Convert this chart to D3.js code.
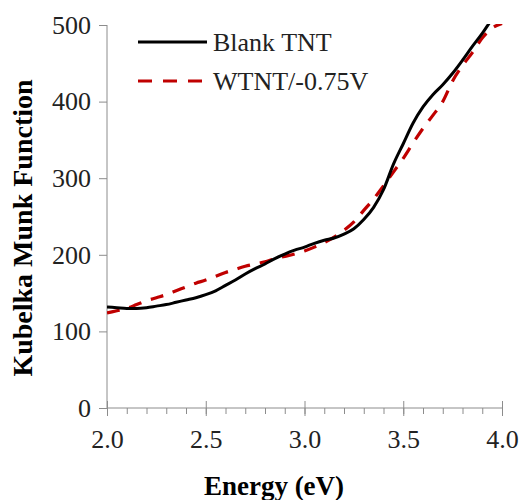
<!DOCTYPE html>
<html>
<head>
<meta charset="utf-8">
<script src="https://cdn.jsdelivr.net/npm/d3@7"></script>
<style>
  body { margin: 0; background: #fff; }
  text { font-family: "Liberation Serif", "Times New Roman", serif; }
</style>
</head>
<body>
<div id="chart"></div>
<script>
// energy values (eV) shared by both series
const energy = [2.00, 2.05, 2.10, 2.15, 2.20, 2.25, 2.30, 2.35, 2.40, 2.45,
  2.50, 2.55, 2.60, 2.65, 2.70, 2.75, 2.80, 2.85, 2.90, 2.95,
  3.00, 3.05, 3.10, 3.15, 3.20, 3.25, 3.30, 3.35, 3.40, 3.45,
  3.50, 3.55, 3.60, 3.65, 3.70, 3.75, 3.80, 3.85, 3.90, 3.95, 4.00];

// Blank TNT
const blankTNT = [132, 131, 130, 130, 131, 133, 135, 138, 141, 144,
  148, 153, 160, 167, 175, 182, 188, 195, 201, 206,
  210, 215, 219, 222, 227, 234, 246, 262, 285, 318,
  345, 372, 393, 409, 422, 437, 454, 472, 489, 508, 525];

// WTNT/-0.75V
const wtnt = [124, 127, 130, 135, 140, 144, 148, 153, 158, 163,
  167, 172, 177, 181, 185, 188, 191, 195, 198, 201,
  205, 210, 216, 223, 232, 243, 258, 273, 290, 308,
  326, 346, 365, 382, 400, 427, 447, 464, 483, 496, 502];

const xTicks = [2.0, 2.5, 3.0, 3.5, 4.0];
const yTicks = [0, 100, 200, 300, 400, 500];
const seriesNames = ["Blank TNT", "WTNT/-0.75V"];

const width = 521, height = 500;
const marginLeft = 107, marginRight = 19, marginTop = 25, marginBottom = 92;

const x = d3.scaleLinear().domain([2, 4]).range([marginLeft, width - marginRight]);
const y = d3.scaleLinear().domain([0, 500]).range([height - marginBottom, marginTop]);

const svg = d3.select("#chart").append("svg").attr("width", width).attr("height", height);

const axisColor = "#8c8c8c";

// clip lines to plot area
svg.append("clipPath").attr("id", "plot")
  .append("rect")
  .attr("x", marginLeft).attr("y", marginTop - 1)
  .attr("width", width - marginRight - marginLeft + 2)
  .attr("height", height - marginBottom - marginTop + 1);

// y axis
const yAxis = svg.append("g")
  .attr("transform", `translate(${marginLeft},0)`)
  .call(d3.axisLeft(y).tickValues(yTicks).tickSize(8).tickPadding(8).tickFormat(d3.format("d")));
yAxis.select(".domain").attr("stroke", axisColor).attr("d", `M0,${y(500)}V${y(0)}`);
yAxis.selectAll(".tick line").attr("stroke", axisColor);
yAxis.selectAll(".tick text").attr("font-size", 26).attr("fill", "#222")
  .attr("font-family", "Liberation Serif");

// x axis: minor ticks outside, major ticks cross
const xAxisG = svg.append("g").attr("transform", `translate(0,${y(0)})`);
xAxisG.call(d3.axisBottom(x).tickValues(d3.range(2, 4.001, 0.1)).tickSize(6).tickFormat(""));
xAxisG.select(".domain").attr("stroke", axisColor).attr("d", `M${x(2)},0H${x(4)}`);
xAxisG.selectAll(".tick line").attr("stroke", axisColor);

const xMajor = svg.append("g").attr("transform", `translate(0,${y(0)})`);
xMajor.call(d3.axisBottom(x).tickValues(xTicks).tickSize(8).tickPadding(14).tickFormat(d3.format(".1f")));
xMajor.select(".domain").remove();
xMajor.selectAll(".tick line").attr("stroke", axisColor).attr("y1", -7);
xMajor.selectAll(".tick text").attr("font-size", 26).attr("fill", "#222")
  .attr("font-family", "Liberation Serif");

// lines
const line = d3.line().curve(d3.curveMonotoneX)
  .x((d, i) => x(energy[i]))
  .y(d => y(d));

const plot = svg.append("g").attr("clip-path", "url(#plot)").attr("fill", "none");

plot.append("path")
  .datum(wtnt)
  .attr("stroke", "#c00000")
  .attr("stroke-width", 3.2)
  .attr("stroke-dasharray", "13,10")
  .attr("d", line);

plot.append("path")
  .datum(blankTNT)
  .attr("stroke", "#000")
  .attr("stroke-width", 3)
  .attr("d", line);

// legend
const legend = svg.append("g");
const legendY = [42, 81];
legend.append("line").attr("x1", 138).attr("x2", 207).attr("y1", legendY[0]).attr("y2", legendY[0])
  .attr("stroke", "#000").attr("stroke-width", 3);
legend.append("line").attr("x1", 138).attr("x2", 207).attr("y1", legendY[1]).attr("y2", legendY[1])
  .attr("stroke", "#c00000").attr("stroke-width", 3.2).attr("stroke-dasharray", "14,11");
seriesNames.forEach((name, i) => {
  legend.append("text")
    .attr("x", 213).attr("y", legendY[i] + 9)
    .attr("font-size", 26).attr("fill", "#222")
    .text(name);
});

// axis titles
svg.append("text")
  .attr("x", 274).attr("y", 495)
  .attr("text-anchor", "middle")
  .attr("font-size", 27).attr("font-weight", "bold")
  .text("Energy (eV)");

svg.append("text")
  .attr("transform", "translate(32,228) rotate(-90)")
  .attr("text-anchor", "middle")
  .attr("font-size", 28).attr("font-weight", "bold")
  .text("Kubelka Munk Function");
</script>
</body>
</html>
